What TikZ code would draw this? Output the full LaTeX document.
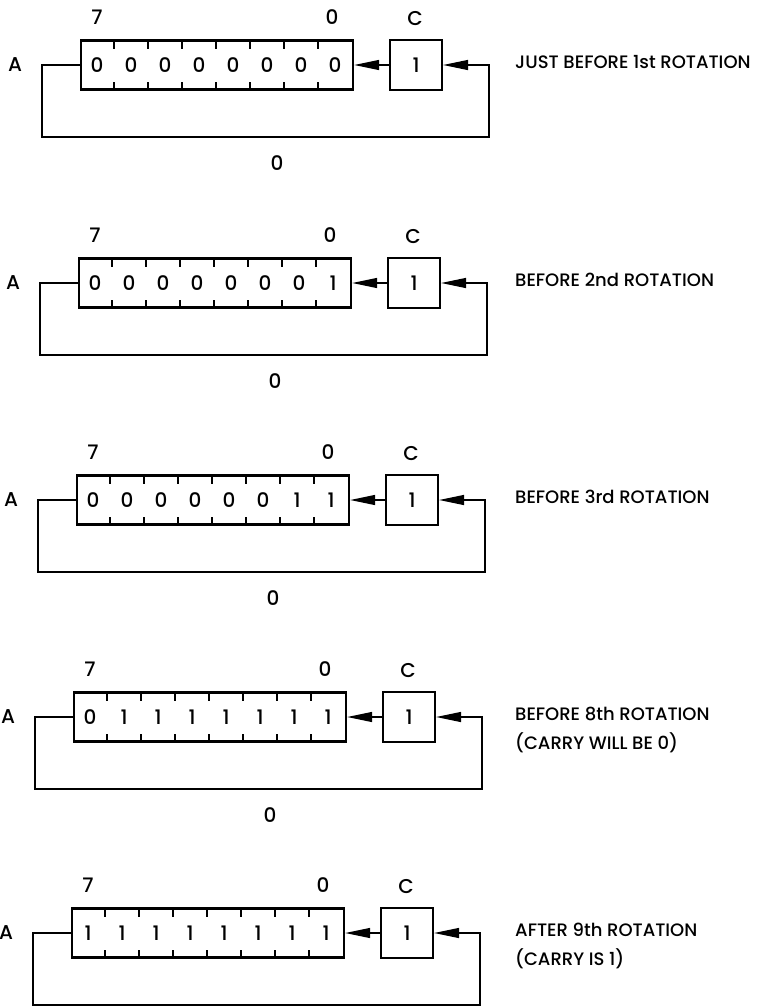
\documentclass[tikz,border=0pt]{standalone}
\usepackage{fontspec}
\setmainfont{Poppins Medium}
\usetikzlibrary{arrows.meta}
\tikzset{
  regbox/.style={draw, line width=2.2pt, minimum width=272pt, minimum height=49pt, inner sep=0pt, anchor=west},
  carrybox/.style={draw, line width=2.2pt, minimum width=52pt, minimum height=50pt, inner sep=0pt, font=\fontsize{20}{22}\selectfont},
  bitlbl/.style={inner sep=0pt, font=\fontsize{20}{22}\selectfont},
  toplbl/.style={inner sep=0pt, font=\fontsize{20}{22}\selectfont},
  caption/.style={inner sep=0pt, anchor=north west, align=left, font=\fontsize{18}{29}\selectfont},
  celltick/.style={line width=1.4pt},
  feed/.style={line width=1.3pt, -{Triangle[length=25pt,width=10pt]}}
}

\begin{document}
\begin{tikzpicture}[x=1pt, y=-1pt]
    \useasboundingbox (0,0) rectangle (765,1007);

    % one panel per rotation step
    \foreach \p/\y/\dx/\bits/\btm/\txt in {
        1/65/0/{0,0,0,0,0,0,0,0}/0/{JUST BEFORE 1st ROTATION},
        2/283/-2/{0,0,0,0,0,0,0,1}/0/{BEFORE 2nd ROTATION},
        3/500/-4/{0,0,0,0,0,0,1,1}/0/{BEFORE 3rd ROTATION},
        4/717/-7/{0,1,1,1,1,1,1,1}/0/{BEFORE 8th ROTATION\\(CARRY WILL BE 0)},
        5/933/-9/{1,1,1,1,1,1,1,1}/{}/{AFTER 9th ROTATION\\(CARRY IS 1)}} {
        \pgfmathsetmacro{\L}{80+\dx}

        \node[regbox] (reg\p) at (\L,\y) {};
        \foreach \b [count=\i] in \bits {
            \node[bitlbl] (bit\p-\i) at ({\L+17+34*(\i-1)},\y) {\b};
        }
        \foreach \k in {1,...,7} {
            \draw[celltick] ({\L+34*\k},{\y-24.5}) -- ++(0,8);
            \draw[celltick] ({\L+34*\k},{\y+24.5}) -- ++(0,-8);
        }
        \node[carrybox] (carry\p) at ({\L+336},\y) {1};

        \node[toplbl] (msb\p) at ({\L+17},{\y-48}) {7};
        \node[toplbl] (lsb\p) at ({\L+252},{\y-48}) {0};
        \node[toplbl] (clbl\p) at ({\L+335},{\y-46}) {C};
        \node[toplbl] (acc\p) at ({\L-65},\y) {A};
        \node[toplbl] (out\p) at ({\L+197},{\y+98}) {\btm};

        \coordinate (lp\p) at ({\L-38},{\y+72});
        \coordinate (rp\p) at ({\L+409},\y);
        \draw[feed] (carry\p.west) -- (reg\p.east);
        \draw[feed] (reg\p.west) -| (lp\p) -| (rp\p) -- (carry\p.east);

        \node[caption] (cap\p) at (515,{\y-10}) {\txt};
    }
\end{tikzpicture}
\end{document}
